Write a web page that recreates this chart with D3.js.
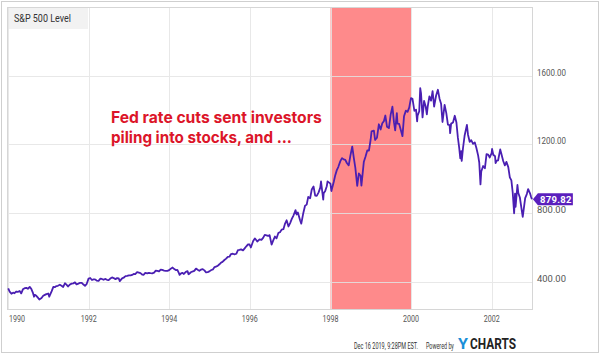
<!DOCTYPE html>
<html><head><meta charset="utf-8">
<script src="https://cdn.jsdelivr.net/npm/d3@7"></script>
<style>html,body{margin:0;padding:0;background:#fff;}svg{display:block;font-family:Roboto,"Liberation Sans",sans-serif;}</style>
</head><body>
<svg id="c" width="600" height="355"></svg>
<script>
const seriesName = "S&P 500 Level";
const dates = [
"1990-01-02","1990-01-15","1990-01-31","1990-02-15","1990-02-28","1990-03-15","1990-03-30","1990-04-16","1990-04-30","1990-05-15","1990-05-31","1990-06-15","1990-06-29","1990-07-16","1990-07-31","1990-08-15","1990-08-24","1990-08-31","1990-09-14","1990-09-28","1990-10-11","1990-10-31","1990-11-15","1990-11-30","1990-12-14","1990-12-31",
"1991-01-09","1991-01-31","1991-02-15","1991-02-28","1991-03-15","1991-03-28","1991-04-15","1991-04-30","1991-05-15","1991-05-31","1991-06-14","1991-06-28","1991-07-15","1991-07-31","1991-08-15","1991-08-30","1991-09-13","1991-09-30","1991-10-15","1991-10-31","1991-11-15","1991-11-29","1991-12-13","1991-12-31",
"1992-01-15","1992-01-31","1992-02-14","1992-02-28","1992-03-13","1992-03-31","1992-04-15","1992-04-30","1992-05-15","1992-05-29","1992-06-15","1992-06-30","1992-07-15","1992-07-31","1992-08-14","1992-08-31","1992-09-15","1992-09-30","1992-10-09","1992-10-30","1992-11-13","1992-11-30","1992-12-15","1992-12-31",
"1993-01-15","1993-01-29","1993-02-12","1993-02-26","1993-03-15","1993-03-31","1993-04-15","1993-04-30","1993-05-14","1993-05-28","1993-06-15","1993-06-30","1993-07-15","1993-07-30","1993-08-16","1993-08-31","1993-09-15","1993-09-30","1993-10-15","1993-10-29","1993-11-15","1993-11-30","1993-12-15","1993-12-31",
"1994-01-14","1994-01-31","1994-02-15","1994-02-28","1994-03-15","1994-03-31","1994-04-04","1994-04-15","1994-04-29","1994-05-13","1994-05-31","1994-06-15","1994-06-24","1994-06-30","1994-07-15","1994-07-29","1994-08-15","1994-08-31","1994-09-15","1994-09-30","1994-10-14","1994-10-31","1994-11-15","1994-11-30","1994-12-15","1994-12-30",
"1995-01-13","1995-01-31","1995-02-15","1995-02-28","1995-03-15","1995-03-31","1995-04-13","1995-04-28","1995-05-15","1995-05-31","1995-06-15","1995-06-30","1995-07-14","1995-07-31","1995-08-15","1995-08-31","1995-09-15","1995-09-29","1995-10-13","1995-10-31","1995-11-15","1995-11-30","1995-12-15","1995-12-29",
"1996-01-10","1996-01-31","1996-02-15","1996-02-29","1996-03-08","1996-03-29","1996-04-15","1996-04-30","1996-05-15","1996-05-31","1996-06-14","1996-06-28","1996-07-16","1996-07-31","1996-08-15","1996-08-30","1996-09-16","1996-09-30","1996-10-15","1996-10-31","1996-11-15","1996-11-29","1996-12-16","1996-12-31",
"1997-01-15","1997-01-31","1997-02-18","1997-02-28","1997-03-11","1997-03-31","1997-04-11","1997-04-30","1997-05-15","1997-05-30","1997-06-13","1997-06-30","1997-07-15","1997-07-31","1997-08-15","1997-08-29","1997-09-15","1997-09-30","1997-10-07","1997-10-27","1997-10-31","1997-11-14","1997-11-28","1997-12-05","1997-12-31",
"1998-01-09","1998-01-30","1998-02-13","1998-02-27","1998-03-13","1998-03-31","1998-04-15","1998-04-30","1998-05-15","1998-05-29","1998-06-15","1998-06-30","1998-07-17","1998-07-31","1998-08-14","1998-08-31","1998-09-15","1998-09-30","1998-10-08","1998-10-30","1998-11-13","1998-11-30","1998-12-15","1998-12-31",
"1999-01-08","1999-01-29","1999-02-09","1999-02-26","1999-03-15","1999-03-31","1999-04-15","1999-04-30","1999-05-13","1999-05-28","1999-06-14","1999-06-30","1999-07-16","1999-07-30","1999-08-10","1999-08-25","1999-08-31","1999-09-15","1999-09-30","1999-10-15","1999-10-29","1999-11-15","1999-11-30","1999-12-15","1999-12-31",
"2000-01-14","2000-01-31","2000-02-15","2000-02-25","2000-02-29","2000-03-15","2000-03-24","2000-03-31","2000-04-14","2000-04-28","2000-05-12","2000-05-23","2000-05-31","2000-06-15","2000-06-30","2000-07-14","2000-07-28","2000-07-31","2000-08-15","2000-08-31","2000-09-15","2000-09-29","2000-10-12","2000-10-31","2000-11-15","2000-11-30","2000-12-15","2000-12-20","2000-12-29",
"2001-01-15","2001-01-31","2001-02-15","2001-02-28","2001-03-12","2001-03-22","2001-03-30","2001-04-04","2001-04-16","2001-04-30","2001-05-21","2001-05-31","2001-06-15","2001-06-29","2001-07-16","2001-07-31","2001-08-15","2001-08-31","2001-09-10","2001-09-21","2001-09-28","2001-10-15","2001-10-31","2001-11-15","2001-11-30","2001-12-14","2001-12-31",
"2002-01-04","2002-01-15","2002-01-31","2002-02-05","2002-02-15","2002-02-28","2002-03-19","2002-03-28","2002-04-15","2002-04-30","2002-05-14","2002-05-31","2002-06-14","2002-06-28","2002-07-10","2002-07-23","2002-07-31","2002-08-05","2002-08-22","2002-08-30","2002-09-13","2002-09-30","2002-10-09","2002-10-31","2002-11-15","2002-11-27","2002-12-16","2002-12-24","2002-12-31"
];
const values = [
359.69,340.75,329.08,334.89,331.89,341.91,339.94,344.74,330.80,354.75,361.23,362.91,358.02,368.95,356.15,332.39,311.51,322.56,316.83,306.05,295.46,304.00,317.02,322.22,326.82,330.22,
311.49,343.93,369.06,367.07,373.59,375.22,381.19,375.35,368.57,389.83,382.29,371.16,382.39,387.81,389.33,395.43,383.59,387.86,392.80,392.46,382.62,375.22,384.47,417.09,
420.77,408.79,412.48,412.70,405.84,403.69,416.28,414.95,410.09,415.35,410.29,408.14,417.54,424.21,420.33,414.03,419.92,417.80,402.66,418.68,422.43,431.35,432.82,435.71,
435.87,438.78,444.58,443.38,454.85,451.67,448.66,440.19,439.56,450.19,447.43,450.53,449.22,448.13,452.38,463.56,461.60,458.93,469.50,467.83,463.75,461.79,461.84,466.45,
474.91,481.61,472.79,467.14,467.39,445.77,438.92,446.18,450.91,444.14,456.50,460.61,442.80,444.27,454.16,458.26,461.94,475.49,468.80,462.69,469.10,472.35,465.03,453.69,455.34,459.27,
465.97,470.42,484.56,487.39,490.85,500.71,509.23,514.71,525.55,533.40,544.13,544.75,560.34,562.06,558.57,561.88,583.35,584.41,587.37,581.50,593.26,605.37,616.92,615.93,
598.48,636.02,651.32,640.43,633.50,645.50,642.49,654.17,671.65,669.12,665.85,670.63,615.00,639.95,662.28,651.99,683.98,687.31,702.57,705.27,737.62,757.02,720.98,740.74,
765.43,786.16,816.29,790.82,801.99,757.12,737.65,801.34,841.88,848.28,893.27,885.14,936.59,954.29,900.81,899.47,919.77,947.28,983.12,876.99,914.62,928.35,955.40,983.79,970.43,
927.69,980.28,1020.09,1049.34,1068.61,1101.75,1119.32,1111.75,1108.73,1090.82,1077.01,1133.84,1186.75,1120.67,1062.75,957.28,1029.72,1017.01,959.44,1098.67,1125.72,1163.63,1162.83,1229.23,
1275.09,1279.64,1225.00,1238.33,1316.55,1286.37,1322.85,1335.18,1367.56,1301.84,1294.00,1372.71,1418.78,1328.72,1281.43,1381.79,1320.41,1318.48,1282.71,1247.41,1362.93,1396.06,1388.91,1413.32,1469.25,
1465.15,1394.46,1402.05,1333.36,1366.42,1392.14,1527.46,1498.58,1356.56,1452.43,1420.96,1373.86,1420.60,1478.73,1454.60,1509.98,1419.89,1430.83,1484.43,1517.68,1465.81,1436.51,1329.78,1429.40,1382.95,1314.95,1312.15,1264.74,1320.28,
1326.65,1366.01,1326.61,1239.94,1180.16,1117.58,1160.33,1103.25,1179.68,1249.46,1312.83,1255.82,1214.36,1224.42,1202.45,1211.23,1178.02,1133.58,1092.54,965.80,1040.94,1073.48,1059.78,1142.24,1139.45,1123.09,1148.08,
1172.51,1138.88,1130.20,1090.02,1104.18,1106.73,1170.29,1147.39,1102.55,1076.92,1097.28,1067.14,1007.27,989.82,920.47,797.70,911.62,834.60,962.70,916.07,889.81,815.28,776.76,885.76,909.83,938.87,910.40,892.47,879.82
];
const xTickYears = [1990,1992,1994,1996,1998,2000,2002];
const yTicks = [400,800,1200,1600];
const highlightStart = "1998-01-01", highlightEnd = "2000-01-01";
const annotationLines = ["Fed rate cuts sent investors","piling into stocks, and ..."];
const lastLabel = "879.82";
const footerText = "Dec 16 2019, 9:28PM EST.";
const poweredText = "Powered by";
const brandY = "Y", brandRest = "CHARTS";

const parse = d3.timeParse("%Y-%m-%d");
const data = dates.map((d,i)=>({date:parse(d), value:values[i]}));

const L=7, R=533, T=7, B=309;
const x = d3.scaleTime().domain([new Date(1989,11,22), new Date(2003,0,10)]).range([L,R]);
const y = d3.scaleLinear().domain([240,2000]).range([B,T]);

const svg = d3.select("#c");

// helper: text squeezed horizontally to a target width via transform
function fitText(parent, str, px, py, size, target, attrs){
  const g = parent.append("g");
  const t = g.append("text").attr("x",0).attr("y",0).attr("font-size",size).text(str);
  Object.entries(attrs||{}).forEach(([k,v])=>t.attr(k,v));
  const w = t.node().getComputedTextLength();
  const s = w>0 ? target/w : 1;
  g.attr("transform",`translate(${px},${py}) scale(${s},1)`);
  return t;
}

// outer frame
svg.append("rect").attr("x",1.5).attr("y",1.5).attr("width",597).attr("height",351)
  .attr("fill","#fff").attr("stroke","#cfcfcf").attr("stroke-width",1);

// highlight band
svg.append("rect").attr("x",x(parse(highlightStart))).attr("y",T)
  .attr("width",x(parse(highlightEnd))-x(parse(highlightStart))).attr("height",B-T)
  .attr("fill","#fe8a8b");

// legend box
svg.append("rect").attr("x",L).attr("y",T).attr("width",81).attr("height",22).attr("fill","#f2f2f2");

// gridlines
const grid = svg.append("g").attr("stroke","#e4e4e4").attr("stroke-width",1).attr("opacity",0.85);
xTickYears.forEach(yr=>{
  const px = Math.round(x(new Date(yr,0,1)))+0.5;
  grid.append("line").attr("x1",px).attr("x2",px).attr("y1",T).attr("y2",B);
});
yTicks.forEach(v=>{
  const py = Math.round(y(v))+0.5;
  grid.append("line").attr("x1",L).attr("x2",R).attr("y1",py).attr("y2",py);
});

// plot frame
svg.append("rect").attr("x",L+0.5).attr("y",T+0.5).attr("width",R-L-1).attr("height",B-T)
  .attr("fill","none").attr("stroke","#d6d6d6");

// legend text
fitText(svg, seriesName, 14, 22, 10, 57, {fill:"#333"});

// line
const line = d3.line().x(d=>x(d.date)).y(d=>y(d.value));
svg.append("path").datum(data).attr("d",line).attr("fill","none")
  .attr("stroke","#4a1fb2").attr("stroke-width",1.8).attr("stroke-linejoin","round");

// x axis labels
xTickYears.forEach(yr=>{
  let px = x(new Date(yr,0,1));
  if (px < 17) px = 17;
  fitText(svg, String(yr), px-8, 322, 9.5, 16, {fill:"#555"});
});

// y axis labels
yTicks.forEach(v=>{
  fitText(svg, d3.format(".2f")(v), 537, y(v), 9.5, 29, {fill:"#555"});
});

// last value tag
const last = data[data.length-1];
const ty = y(last.value);
const tx = x(last.date);
svg.append("path").attr("d",`M${tx+1},${ty} L${tx+6},${ty-6} L${tx+41},${ty-6} L${tx+41},${ty+6} L${tx+6},${ty+6} Z`)
  .attr("fill","#5a1fbd");
svg.append("text").attr("x",tx+24).attr("y",ty+3.5).attr("text-anchor","middle").attr("font-size",9.5)
  .attr("font-weight","bold").attr("fill","#fff").attr("letter-spacing",0.3).text(lastLabel);

// annotation
const annAttrs = {"font-family":"Inter, 'Open Sans', sans-serif","font-weight":700,fill:"#dc1529"};
fitText(svg, annotationLines[0], 111, 123, 16, 211, annAttrs);
fitText(svg, annotationLines[1], 111, 143, 16, 181, annAttrs);

// footer
fitText(svg, footerText, 354, 348.5, 9, 64, {fill:"#333"});
fitText(svg, poweredText, 426, 348.5, 9, 28, {fill:"#333"});
fitText(svg, brandY, 458, 349, 14, 10, {fill:"#1a8fd8","font-weight":"bold"});
fitText(svg, brandRest, 470, 349, 14, 46, {fill:"#222","font-weight":"bold"});
</script>
</body></html>
